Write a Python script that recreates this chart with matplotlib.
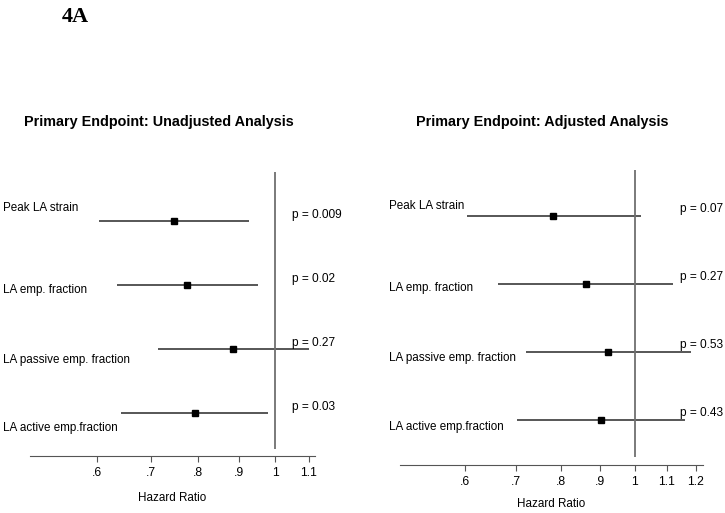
import matplotlib.pyplot as plt
import matplotlib.transforms as mtransforms
import numpy as np

plt.rcParams['font.family'] = ['Liberation Sans', 'DejaVu Sans']

measures = ["Peak LA strain", "LA emp. fraction", "LA passive emp. fraction",
            "LA active emp.fraction"]

# unadjusted analysis
hr_unadj = [0.748, 0.777, 0.886, 0.795]
lo_unadj = [0.603, 0.635, 0.714, 0.642]
hi_unadj = [0.928, 0.952, 1.10, 0.980]
p_unadj = ["p = 0.009", "p = 0.02", "p = 0.27", "p = 0.03"]

# adjusted analysis
hr_adj = [0.782, 0.863, 0.922, 0.903]
lo_adj = [0.604, 0.663, 0.721, 0.702]
hi_adj = [1.018, 1.121, 1.183, 1.162]
p_adj = ["p = 0.07", "p = 0.27", "p = 0.53", "p = 0.43"]

ticks_unadj = [0.6, 0.7, 0.8, 0.9, 1.0, 1.1]
ticks_adj = [0.6, 0.7, 0.8, 0.9, 1.0, 1.1, 1.2]
tick_labels = {0.6: ".6", 0.7: ".7", 0.8: ".8", 0.9: ".9", 1.0: "1", 1.1: "1.1", 1.2: "1.2"}

W, H = 725, 513
fig = plt.figure(figsize=(W / 100, H / 100), dpi=100)
FS = 8.4


def px_box(left, right, top, bottom):
    return [left / W, 1 - bottom / H, (right - left) / W, (bottom - top) / H]


def forest(box, xlim, ylim, hr, lo, hi, pvals, ticks, label_x, label_dy, p_x, p_dy, title, title_x, xlabel_pad, ref_gap):
    ax = fig.add_axes(box)
    rows = np.arange(len(hr), 0, -1)
    ax.set_xscale('log')
    ax.set_xlim(*xlim)
    ax.set_ylim(*ylim)
    ax.hlines(rows, lo, hi, color='#3a3a3a', lw=1.2)
    ax.plot(hr, rows, 's', color='black', ms=4.5)
    ax.vlines(1.0, ylim[0] + ref_gap, ylim[1], color='#707070', lw=1.3)
    for s in ['top', 'right', 'left']:
        ax.spines[s].set_visible(False)
    ax.spines['bottom'].set_color('#555555')
    ax.set_yticks([])
    ax.set_xticks(ticks)
    ax.set_xticklabels([tick_labels[t] for t in ticks], fontsize=FS + 0.3)
    ax.xaxis.set_minor_locator(plt.NullLocator())
    ax.tick_params(axis='x', direction='out', length=4, color='#555555', pad=4)
    ax.set_xlabel("Hazard Ratio", fontsize=FS, labelpad=xlabel_pad)
    trans = mtransforms.blended_transform_factory(fig.transFigure, ax.transData)
    for r, name, dy in zip(rows, measures, label_dy):
        ax.text(label_x / W, r + dy, name, transform=trans, fontsize=FS,
                ha='left', va='center')
    for r, p in zip(rows, pvals):
        ax.text(p_x, r + p_dy, p, fontsize=FS + 0.2, ha='left', va='center')
    fig.text(title_x / W, 1 - 122 / H, title, fontsize=10.4, fontweight='bold',
             ha='center', va='center')
    return ax


forest(px_box(30, 315, 172, 456), (0.495, 1.12), (0.328, 4.766),
       hr_unadj, lo_unadj, hi_unadj, p_unadj, ticks_unadj,
       3, [0.2, -0.08, -0.17, -0.23], 1.05, 0.09,
       "Primary Endpoint: Unadjusted Analysis", 159, 9, 0.11)

forest(px_box(400, 703, 170, 465), (0.494, 1.227), (0.338, 4.676),
       hr_adj, lo_adj, hi_adj, p_adj, ticks_adj,
       389, [0.15, -0.06, -0.09, -0.1], 1.145, 0.1,
       "Primary Endpoint: Adjusted Analysis", 542, 7, 0.12)

fig.text(75 / W, 1 - 17 / H, "4A", family='Liberation Serif', fontsize=16,
         fontweight='bold', ha='center', va='center')

fig.savefig("out.png", dpi=100)
